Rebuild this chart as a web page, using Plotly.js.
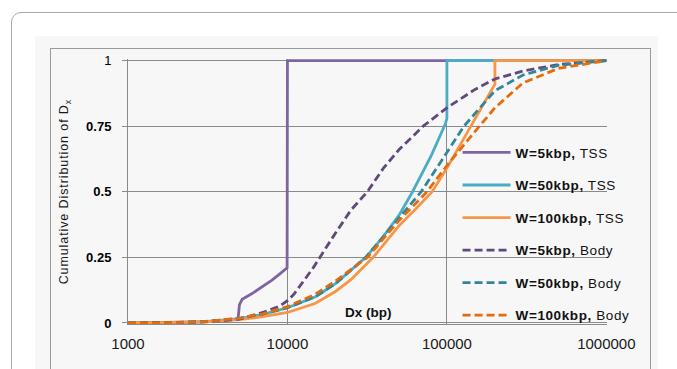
<!DOCTYPE html>
<html>
<head>
<meta charset="utf-8">
<script src="https://cdn.plot.ly/plotly-3.0.1.min.js"></script>
<style>
  html, body { margin:0; padding:0; background:#ffffff; width:677px; height:369px; overflow:hidden; }
  #frame { position:absolute; left:11px; top:12px; width:720px; height:420px; border:1.5px solid #a9a9a9; border-radius:10px; }
  #panel { position:absolute; left:35px; top:36px; width:623px; height:400px; background:#f7f7f7; }
  #inner { position:absolute; left:50px; top:48px; width:599px; height:400px; border:1px solid #9a9a9a; }
  #chart { position:absolute; left:0; top:0; width:677px; height:369px; }
  g.annotation[data-index="0"] text { letter-spacing: 0.9px; }
  .legendtext { letter-spacing: 0.6px; }
</style>
</head>
<body>
<div id="frame"></div>
<div id="panel"></div>
<div id="inner"></div>
<div id="chart"></div>
<script>
// ---- data ----
const seriesNames = [
  '<b>W=5kbp,</b> TSS', '<b>W=50kbp,</b> TSS', '<b>W=100kbp,</b> TSS',
  '<b>W=5kbp,</b> Body', '<b>W=50kbp,</b> Body', '<b>W=100kbp,</b> Body'
];

const xTss5  = [1000, 2000, 3000, 4000, 4900, 5000, 5200, 6000, 7000, 8000, 9000, 9950, 10000, 1000000];
const yTss5  = [0, 0.001, 0.004, 0.008, 0.015, 0.07, 0.09, 0.112, 0.138, 0.163, 0.188, 0.21, 1, 1];

const xTss50 = [1000, 2000, 3000, 5000, 7000, 10000, 15000, 20000, 31000, 40000, 50000, 60900, 80000, 98000, 100000, 100000, 1000000];
const yTss50 = [0, 0.001, 0.005, 0.016, 0.033, 0.058, 0.1, 0.15, 0.25, 0.33, 0.41, 0.5, 0.64, 0.76, 0.78, 1, 1];

const xTss100 = [1000, 2000, 3000, 5000, 7000, 10000, 15000, 20000, 25000, 34500, 50000, 65000, 80800, 100000, 120000, 142000, 170000, 200000, 200000, 1000000];
const yTss100 = [0, 0.001, 0.004, 0.013, 0.024, 0.04, 0.075, 0.12, 0.165, 0.25, 0.37, 0.44, 0.5, 0.59, 0.675, 0.75, 0.835, 0.91, 1, 1];

const xBody5 = [1000, 2000, 3000, 5000, 7000, 9000, 10000, 11000, 14500, 19400, 25000, 31700, 40000, 50000, 71000, 100000, 150000, 200000, 300000, 500000, 1000000];
const yBody5 = [0, 0.001, 0.004, 0.015, 0.04, 0.065, 0.085, 0.11, 0.21, 0.33, 0.43, 0.5, 0.59, 0.66, 0.75, 0.82, 0.89, 0.93, 0.96, 0.985, 1];

const xBody50 = [1000, 2000, 3000, 5000, 7000, 10000, 15000, 20000, 31000, 50000, 69000, 100000, 128000, 200000, 300000, 500000, 1000000];
const yBody50 = [0, 0.001, 0.005, 0.017, 0.034, 0.058, 0.1, 0.15, 0.25, 0.4, 0.5, 0.65, 0.75, 0.885, 0.945, 0.982, 1];

const xBody100 = [1000, 2000, 3000, 5000, 7000, 10000, 15000, 20000, 31700, 50000, 75000, 100000, 160000, 200000, 300000, 500000, 1000000];
const yBody100 = [0, 0.001, 0.005, 0.018, 0.035, 0.062, 0.11, 0.16, 0.25, 0.39, 0.5, 0.6, 0.75, 0.82, 0.915, 0.97, 1];

const xTickVals = [1000, 10000, 100000, 1000000];
const xTickText = ['1000', '10000', '100000', '1000000'];
const yTickVals = [0, 0.25, 0.5, 0.75, 1];
const yTickText = ['<b>0</b>', '<b>0.25</b>', '<b>0.5</b>', '<b>0.75</b>', '1'];

const xTitle = '<b>Dx (bp)</b>';
const yTitle = 'Cumulative Distribution of D<sub>x</sub>';

// ---- styling ----
const colors = ['#8064a2', '#4bacc6', '#f79646', '#604a7b', '#31859c', '#e46c0a'];
const dashes = ['solid', 'solid', 'solid', '8px,4px', '8px,4px', '8px,4px'];
const xs = [xTss5, xTss50, xTss100, xBody5, xBody50, xBody100];
const ys = [yTss5, yTss50, yTss100, yBody5, yBody50, yBody100];

const traces = xs.map((x, i) => ({
  type: 'scatter', mode: 'lines', x: x, y: ys[i], name: seriesNames[i],
  legendgroup: 'g' + i,
  line: { color: colors[i], width: 2.8, dash: dashes[i] },
  hoverinfo: 'skip'
}));

const FONT = 'Liberation Sans, Arial, sans-serif';
const layout = {
  width: 677, height: 369,
  margin: { l: 128, r: 70, t: 59, b: 45, pad: 0 },
  paper_bgcolor: 'rgba(0,0,0,0)',
  plot_bgcolor: 'rgba(0,0,0,0)',
  font: { family: FONT, color: '#1a1a1a' },
  showlegend: true,
  legend: {
    x: 0.688, y: 0.705, xanchor: 'left', yanchor: 'top',
    bgcolor: 'rgba(0,0,0,0)', borderwidth: 0,
    font: { family: FONT, size: 13.5, color: '#111' },
    traceorder: 'grouped', tracegroupgap: 12, itemwidth: 48
  },
  xaxis: {
    type: 'log', range: [3, 6.004],
    tickvals: xTickVals, ticktext: xTickText,
    ticks: '', showgrid: true, gridcolor: '#8a8a8a', gridwidth: 1,
    showline: true, linecolor: '#8a8a8a', linewidth: 1,
    zeroline: false, ticklabelstandoff: 6,
    tickfont: { family: FONT, size: 15, color: '#1a1a1a' }
  },
  yaxis: {
    range: [-0.004, 1.006],
    tickvals: yTickVals, ticktext: yTickText,
    ticks: 'outside', ticklen: 5, tickcolor: '#8a8a8a', tickwidth: 1,
    showgrid: true, gridcolor: '#8a8a8a', gridwidth: 1,
    showline: true, linecolor: '#8a8a8a', linewidth: 1,
    zeroline: false, ticklabelstandoff: 8,
    tickfont: { family: FONT, size: 13, color: '#000' }
  },
  annotations: [
    { xref: 'paper', yref: 'paper', x: -0.132, y: 0.5, text: yTitle, textangle: -90,
      showarrow: false, xanchor: 'center', yanchor: 'middle',
      font: { family: FONT, size: 12.5, color: '#1a1a1a' } },
    { xref: 'paper', yref: 'paper', x: 0.5015, y: 0.042, text: xTitle,
      showarrow: false, xanchor: 'center', yanchor: 'middle',
      font: { family: FONT, size: 13.5, color: '#111' } }
  ]
};

Plotly.newPlot('chart', traces, layout, { displayModeBar: false, staticPlot: true });
</script>
</body>
</html>
